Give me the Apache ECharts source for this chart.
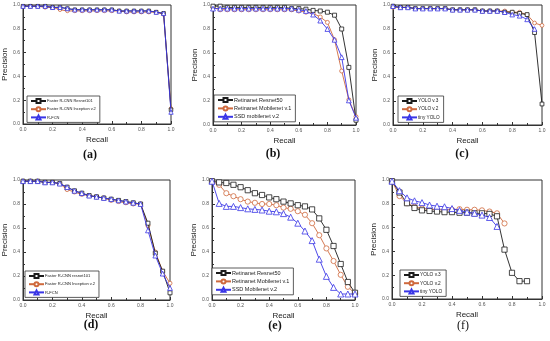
<!DOCTYPE html>
<html><head><meta charset="utf-8">
<script src="https://cdn.jsdelivr.net/npm/echarts@6/dist/echarts.min.js"></script>
<style>html,body{margin:0;padding:0;background:#fff}#c{width:550px;height:341px}</style>
</head><body><div id="c"></div>
<script>
// ---- data ----
const recall = [0,0.05,0.1,0.15,0.2,0.25,0.3,0.35,0.4,0.45,0.5,0.55,0.6,0.65,0.7,0.75,0.8,0.85,0.9,0.95,1.0];
const tickLabels = ['0.0','0.2','0.4','0.6','0.8','1.0'];
const panelLabels = ['(a)','(b)','(c)','(d)','(e)','(f)'];

const aNames = ['Faster R-CNN Resnet101','Faster R-CNN Inception v.2','R-FCN'];
const aRes  = [0.99,0.99,0.99,0.99,0.98,0.98,0.97,0.96,0.96,0.96,0.96,0.96,0.96,0.95,0.95,0.95,0.95,0.95,0.94,0.93,0.12];
const aInc  = [0.99,0.99,0.99,0.98,0.98,0.96,0.95,0.95,0.95,0.95,0.95,0.95,0.95,0.95,0.94,0.94,0.94,0.94,0.94,0.92,0.13];
const aRfcn = [0.99,0.99,0.99,0.99,0.98,0.98,0.97,0.96,0.96,0.96,0.96,0.96,0.96,0.95,0.95,0.95,0.95,0.95,0.94,0.93,0.10];

const bNames = ['Retinanet Resnet50','Retinanet Mobilenet v.1','SSD mobilenet v.2'];
const bRes  = [0.99,0.99,0.98,0.98,0.98,0.98,0.98,0.98,0.98,0.98,0.98,0.97,0.97,0.965,0.955,0.95,0.94,0.915,0.80,0.48,0.04];
const bMob  = [0.98,0.96,0.96,0.96,0.96,0.96,0.96,0.96,0.96,0.96,0.96,0.96,0.95,0.94,0.93,0.90,0.855,0.71,0.45,0.21,0.07];
const bSsd  = [0.97,0.97,0.97,0.97,0.97,0.97,0.97,0.97,0.97,0.97,0.97,0.97,0.96,0.95,0.92,0.87,0.80,0.71,0.565,0.205,0.06];

const cNames = ['YOLO v.3','YOLO v.2','tiny YOLO'];
const cV3   = [0.99,0.98,0.98,0.97,0.97,0.97,0.97,0.97,0.96,0.96,0.96,0.96,0.95,0.95,0.95,0.94,0.94,0.93,0.92,0.77,0.175];
const cV2   = [0.98,0.98,0.98,0.97,0.97,0.97,0.97,0.97,0.96,0.96,0.96,0.96,0.95,0.95,0.95,0.95,0.94,0.94,0.92,0.85,0.83];
const cTiny = [0.99,0.98,0.98,0.97,0.97,0.97,0.97,0.97,0.96,0.96,0.96,0.96,0.95,0.95,0.95,0.94,0.92,0.91,0.88,0.80];

const dNames = ['Faster R-CNN resnet101','Faster R-CNN Inception v.2','R-FCN'];
const dRes  = [0.99,0.99,0.99,0.98,0.98,0.97,0.94,0.91,0.89,0.87,0.86,0.85,0.84,0.83,0.82,0.81,0.80,0.64,0.39,0.24,0.06];
const dInc  = [0.99,0.99,0.99,0.98,0.98,0.97,0.92,0.90,0.88,0.87,0.86,0.85,0.83,0.82,0.81,0.80,0.80,0.62,0.40,0.24,0.14];
const dRfcn = [0.99,0.99,0.99,0.98,0.98,0.97,0.94,0.91,0.89,0.87,0.86,0.85,0.84,0.83,0.82,0.81,0.80,0.58,0.37,0.22,0.10];

const eNames = ['Retinanet Resnet50','Retinanet Mobilenet v.1','SSD Mobilenet v.2'];
const eRes  = [0.99,0.98,0.975,0.96,0.94,0.915,0.89,0.875,0.855,0.84,0.82,0.805,0.79,0.78,0.755,0.68,0.585,0.45,0.30,0.15,0.06];
const eMob  = [0.99,0.96,0.89,0.865,0.84,0.82,0.81,0.80,0.80,0.79,0.77,0.76,0.74,0.71,0.64,0.54,0.43,0.325,0.21,0.11,0.055];
const eSsd  = [0.99,0.805,0.78,0.78,0.77,0.76,0.755,0.75,0.74,0.735,0.72,0.69,0.64,0.575,0.495,0.34,0.197,0.105,0.05,0.05,0.05];

const fNames = ['YOLO v.3','YOLO v.2','tiny YOLO'];
const fV3   = [0.99,0.895,0.805,0.765,0.745,0.74,0.735,0.73,0.73,0.725,0.725,0.72,0.72,0.715,0.695,0.415,0.22,0.15,0.15];
const fV2   = [0.99,0.865,0.805,0.775,0.76,0.755,0.75,0.75,0.75,0.755,0.75,0.75,0.745,0.735,0.72,0.635];
const fTiny = [0.99,0.91,0.85,0.825,0.81,0.79,0.78,0.775,0.76,0.745,0.73,0.72,0.705,0.685,0.61];

// ---- layout ----
const grids = [
  {left:23, top:5, width:148, height:119},
  {left:213, top:5, width:143, height:120},
  {left:393, top:5, width:149, height:120},
  {left:23, top:180, width:147, height:120},
  {left:212, top:180, width:143, height:120},
  {left:392, top:180, width:150, height:119}
];
const yNameGap = [11.5,8.5,10.5,11.5,8,12.5];
const legendPos = [
  {left:27, top:96}, {left:214, top:95}, {left:398, top:96},
  {left:25, top:271}, {left:212, top:268}, {left:400, top:270}
];
const legendFont = [4.0, 5.5, 4.7, 4.1, 5.5, 4.8];
const legendGap = [2.2, 2.4, 2.2, 2.2, 2.4, 2.2];
const labelPos = [[90,155],[273,154],[462,154],[91,325],[275,325.5],[463,325.5]];
const symbolSizes = [3.5,4,3.8,4,5.2,5.2];

const COLORS = ['#1c1c1c','#cf6a3e','#3a36e6'];
const SYMBOLS = ['rect','circle','triangle'];

const panels = [
  [aNames,[aRes,aInc,aRfcn]],
  [bNames,[bRes,bMob,bSsd]],
  [cNames,[cV3,cV2,cTiny]],
  [dNames,[dRes,dInc,dRfcn]],
  [eNames,[eRes,eMob,eSsd]],
  [fNames,[fV3,fV2,fTiny]]
];

const FONT = 'Liberation Sans, Arial, sans-serif';
const option = {animation:false, backgroundColor:'#fff',
  grid:[], xAxis:[], yAxis:[], series:[], legend:[], graphic:[]};

grids.forEach((g,i)=>{
  option.grid.push(Object.assign({show:true, borderColor:'#333', borderWidth:1, backgroundColor:'transparent'}, g));
  const axisCommon = {
    min:0, max:1, interval:0.2, gridIndex:i,
    nameLocation:'middle',
    nameTextStyle:{fontFamily:FONT, fontSize:8, color:'#222'},
    axisLine:{show:true, onZero:false, lineStyle:{color:'#333', width:1}},
    axisTick:{show:true, inside:true, length:3, lineStyle:{color:'#333'}},
    minorTick:{show:true, splitNumber:2, length:2, lineStyle:{color:'#333'}},
    splitLine:{show:false},
    axisLabel:{fontFamily:FONT, fontSize:5, color:'#555', margin:3,
      formatter:(v)=>tickLabels[Math.round(v/0.2)]}
  };
  option.xAxis.push(Object.assign({}, axisCommon, {type:'value', name:'Recall', nameGap:11.5}));
  option.yAxis.push(Object.assign({}, axisCommon, {type:'value', name:'Precision', nameGap:yNameGap[i]}));
  const [names, vals] = panels[i];
  names.forEach((n,k)=>{
    option.series.push({
      type:'line', name:n, xAxisIndex:i, yAxisIndex:i,
      data: vals[k].map((p,j)=>[recall[j], p]),
      symbol:SYMBOLS[k], symbolSize:symbolSizes[i] + (k===2 ? 0.8 : 0), showSymbol:true,
      lineStyle:{color:COLORS[k], width:0.9},
      itemStyle:{color:'#fff', borderColor:COLORS[k], borderWidth:0.8},
      z: k===0 ? 3 : (k===1 ? 2 : 4)
    });
  });
  option.legend.push(Object.assign({
    show:true, orient:'vertical', data:names,
    backgroundColor:'#fff', borderColor:'#333', borderWidth:0.8,
    padding:[2,4,2,3], itemGap:legendGap[i], itemWidth:15, itemHeight:5,
    selectedMode:false,
    textStyle:{fontFamily:FONT, fontSize:legendFont[i], color:'#222', padding:[0,0,0,-4]}
  }, legendPos[i]));
  option.graphic.push({type:'text', x:labelPos[i][0], y:labelPos[i][1],
    style:{text:panelLabels[i], fontFamily:'Liberation Serif, DejaVu Serif, serif',
      fontSize:12, fontWeight: i===5 ? 'normal' : 'bold', fill:'#111',
      align:'center', verticalAlign:'middle'}});
});

const chart = echarts.init(document.getElementById('c'), null, {renderer:'canvas'});
chart.setOption(option);
</script>
</body></html>
